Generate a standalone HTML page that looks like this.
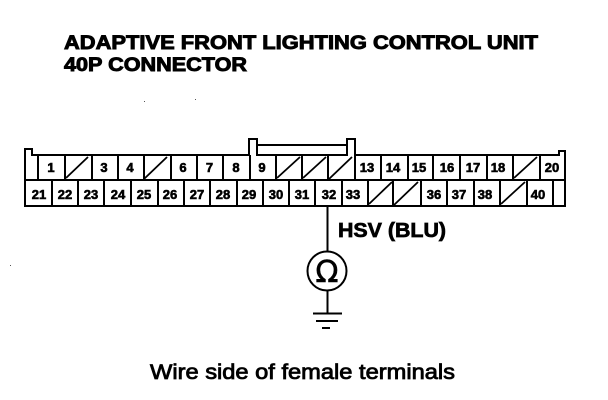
<!DOCTYPE html>
<html>
<head>
<meta charset="utf-8">
<style>
html,body{margin:0;padding:0;background:#fff;width:608px;height:400px;overflow:hidden}
svg{display:block}
text{font-family:"Liberation Sans",sans-serif;fill:#000}
.t{font-weight:bold;font-size:19px;stroke:#000;stroke-width:.9px}
.n{font-weight:bold;font-size:13px;text-anchor:middle;stroke:#000;stroke-width:.6px}
.l{stroke:#000;stroke-width:2;fill:none}
.s{stroke:#000;stroke-width:1.8;fill:none}
</style>
</head>
<body>
<svg width="608" height="400" viewBox="0 0 608 400" xmlns="http://www.w3.org/2000/svg">
<text class="t" x="64" y="49" textLength="474" lengthAdjust="spacingAndGlyphs">ADAPTIVE FRONT LIGHTING CONTROL UNIT</text>
<text class="t" x="64" y="71" textLength="183" lengthAdjust="spacingAndGlyphs">40P CONNECTOR</text>

<!-- connector outline -->
<path class="l" d="M25 206V149H32V155H249V139H257V155H347V139H355V155H559V151H565V206Z"/>
<path class="l" d="M257 145H347"/>
<line class="l" x1="25" y1="180" x2="565" y2="180"/>
<!-- top dividers -->
<path class="l" d="M38 155V180M65 155V180M92 155V180M118 155V180M144 155V180M171 155V180M197 155V180M223 155V180M250 155V180M276 155V180M302 155V180M328 155V180M355 155V180M381 155V180M408 155V180M433 155V180M460 155V180M487 155V180M513 155V180M540 155V180"/>
<!-- bottom dividers -->
<path class="l" d="M52 180V206M78 180V206M104 180V206M131 180V206M158 180V206M184 180V206M210 180V206M237 180V206M263 180V206M289 180V206M315 180V206M342 180V206M368 180V206M393 180V206M421 180V206M447 180V206M474 180V206M500 180V206M527 180V206M553 180V206"/>
<!-- slashes -->
<path class="s" d="M66 178L88 157M144 179L167 157M277 178L300 157M303 178L326 157M329 179L352 157M514 178L537 157M369 204L392 182M394 205L418 182M501 204L525 182"/>

<!-- numbers -->
<g>
<text class="n" x="51" y="172">1</text>
<text class="n" x="104" y="172">3</text>
<text class="n" x="130" y="172">4</text>
<text class="n" x="183" y="172">6</text>
<text class="n" x="209.500" y="172">7</text>
<text class="n" x="236" y="172">8</text>
<text class="n" x="262" y="172">9</text>
<text class="n" x="367" y="172">13</text>
<text class="n" x="393" y="172">14</text>
<text class="n" x="419" y="172">15</text>
<text class="n" x="447" y="172">16</text>
<text class="n" x="473" y="172">17</text>
<text class="n" x="498" y="172">18</text>
<text class="n" x="552" y="172">20</text>
<text class="n" x="39" y="199">21</text>
<text class="n" x="65" y="199">22</text>
<text class="n" x="91" y="199">23</text>
<text class="n" x="118" y="199">24</text>
<text class="n" x="144" y="199">25</text>
<text class="n" x="170" y="199">26</text>
<text class="n" x="197" y="199">27</text>
<text class="n" x="223" y="199">28</text>
<text class="n" x="249" y="199">29</text>
<text class="n" x="276" y="199">30</text>
<text class="n" x="302" y="199">31</text>
<text class="n" x="329" y="199">32</text>
<text class="n" x="353" y="199">33</text>
<text class="n" x="434" y="199">36</text>
<text class="n" x="459" y="199">37</text>
<text class="n" x="485" y="199">38</text>
<text class="n" x="538" y="199">40</text>
</g>

<!-- wire, meter, ground -->
<line class="l" x1="327.500" y1="206" x2="327.500" y2="251"/>
<circle cx="327" cy="271" r="19.500" fill="none" stroke="#000" stroke-width="2"/>
<text x="327" y="282" font-size="30" text-anchor="middle" stroke="#000" stroke-width=".6" style="font-family:'DejaVu Sans',sans-serif">Ω</text>
<line class="l" x1="327.500" y1="291" x2="327.500" y2="313"/>
<line class="l" x1="313" y1="313.500" x2="342" y2="313.500"/>
<line class="l" x1="316" y1="321" x2="338" y2="321"/>
<line class="l" x1="322" y1="328" x2="330" y2="328"/>

<text x="338" y="237" font-size="20" font-weight="bold" textLength="108" lengthAdjust="spacingAndGlyphs" stroke="#000" stroke-width=".7">HSV (BLU)</text>
<text x="150" y="379" font-size="21" textLength="305" lengthAdjust="spacingAndGlyphs" stroke="#000" stroke-width=".8">Wire side of female terminals</text>

<!-- specks -->
<rect x="144" y="101" width="1" height="1" fill="#555"/>
<rect x="195" y="99" width="1" height="1" fill="#555"/>
<rect x="10" y="265" width="1" height="1" fill="#555"/>
</svg>
</body>
</html>
